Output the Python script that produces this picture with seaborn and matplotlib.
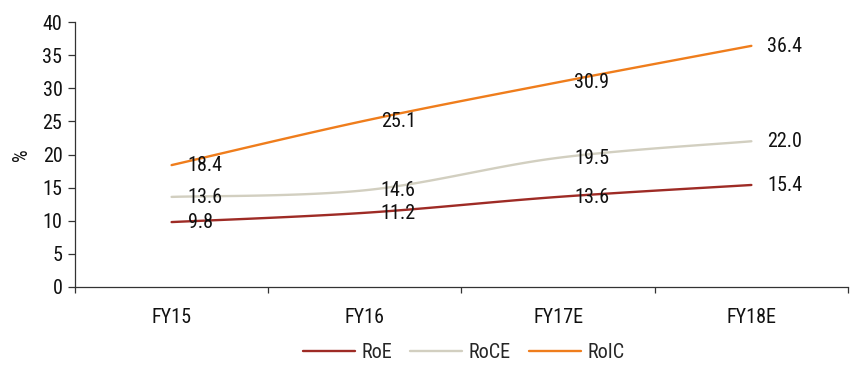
import numpy as np
import pandas as pd
import matplotlib
matplotlib.use("Agg")
import matplotlib.pyplot as plt
import seaborn as sns

years = ["FY15", "FY16", "FY17E", "FY18E"]
roe = [9.8, 11.2, 13.6, 15.4]
roce = [13.6, 14.6, 19.5, 22.0]
roic = [18.4, 25.1, 30.9, 36.4]

series_names = ["RoE", "RoCE", "RoIC"]
series_values = [roe, roce, roic]
colors = {"RoE": "#9E2B25", "RoCE": "#D2CFC0", "RoIC": "#EF7D1C"}

sns.set_theme(style="white")
plt.rcParams["font.family"] = ["Roboto Condensed", "DejaVu Sans"]

FS = 14.5


def smooth(xs, ys, n=40):
    """Bezier smoothing through every point (spreadsheet-style smoothed line)."""
    xs = np.asarray(xs, float)
    ys = np.asarray(ys, float)
    px, py = [], []
    m = len(xs)
    for i in range(m - 1):
        p0 = np.array([xs[i], ys[i]])
        p3 = np.array([xs[i + 1], ys[i + 1]])
        prev = np.array([xs[i - 1], ys[i - 1]]) if i > 0 else p0
        nxt = np.array([xs[i + 2], ys[i + 2]]) if i + 2 < m else p3
        c1 = p0 + (p3 - prev) / 6.0
        c2 = p3 - (nxt - p0) / 6.0
        t = np.linspace(0, 1, n)[:, None]
        pts = ((1 - t) ** 3) * p0 + 3 * ((1 - t) ** 2) * t * c1 + 3 * (1 - t) * t ** 2 * c2 + t ** 3 * p3
        if i > 0:
            pts = pts[1:]
        px.extend(pts[:, 0])
        py.extend(pts[:, 1])
    return px, py


xpos = np.arange(len(years))
frames = []
for name, vals in zip(series_names, series_values):
    cx, cy = smooth(xpos, vals)
    frames.append(pd.DataFrame({"x": cx, "y": cy, "series": name}))
curve = pd.concat(frames, ignore_index=True)

fig = plt.figure(figsize=(8.52, 3.65), dpi=100)
ax = fig.add_axes([0.088, 0.2137, 0.9073, 0.726])

sns.lineplot(data=curve, x="x", y="y", hue="series", hue_order=series_names,
             palette=colors, estimator=None, sort=False, linewidth=1.7, ax=ax,
             legend=False)

for name, vals in zip(series_names, series_values):
    for xi, v in zip(xpos, vals):
        ax.annotate(f"{v:.1f}", (xi, v), xytext=(11.5, -0.5), textcoords="offset points",
                    ha="left", va="center", fontsize=FS, color="#111111")

ax.set_xlim(-0.5, len(years) - 0.5)
ax.set_ylim(0, 40)
ax.set_yticks(np.arange(0, 41, 5))
ax.set_xticks(xpos)
ax.set_xticklabels(years)
ax.set_xticks(np.arange(-0.5, len(years), 1.0), minor=True)
ax.tick_params(axis="x", which="major", length=0, pad=15, labelsize=FS, colors="#111111")
ax.tick_params(axis="x", which="minor", length=4, width=0.9, color="#333333", direction="out", bottom=True)
ax.tick_params(axis="y", length=5, width=0.9, color="#333333", direction="out", left=True,
               labelsize=FS, colors="#111111", pad=4)
ax.set_xlabel("")
ax.set_ylabel("%", fontsize=FS, color="#111111", labelpad=8)

for s in ["top", "right"]:
    ax.spines[s].set_visible(False)
for s in ["left", "bottom"]:
    ax.spines[s].set_color("#333333")
    ax.spines[s].set_linewidth(0.9)

handles = [plt.Line2D([], [], color=colors[n], linewidth=1.7) for n in series_names]
fig.legend(handles, series_names, loc="center", bbox_to_anchor=(0.544, 0.033), ncol=3,
           frameon=False, fontsize=FS, handlelength=2.6, handletextpad=0.3,
           columnspacing=0.9)

fig.savefig("out.png", dpi=100)
